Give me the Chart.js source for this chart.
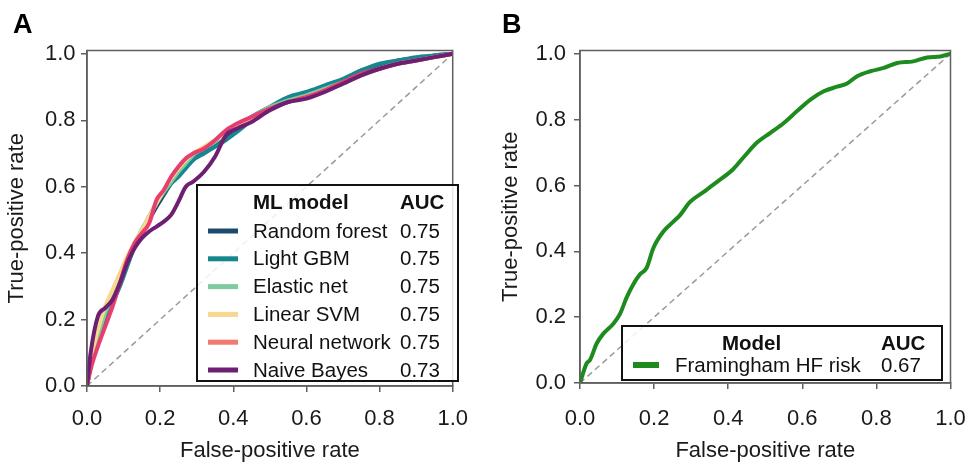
<!DOCTYPE html>
<html>
<head>
<meta charset="utf-8">
<script src="https://cdn.jsdelivr.net/npm/chart.js@4/dist/chart.umd.min.js"></script>
<style>
  body { margin: 0; width: 965px; height: 464px; overflow: hidden; background: #fff; }
  .panel { position: absolute; top: 0; height: 464px; }
  #wrapA { left: 0; width: 482px; }
  #wrapB { left: 483px; width: 500px; }
</style>
</head>
<body>
<div class="panel" id="wrapA"><canvas id="rocA"></canvas></div>
<div class="panel" id="wrapB"><canvas id="rocB"></canvas></div>
<script>
// ML models (panel A) - shared false-positive grid, one TPR list per model
const mlFpr = [0, 0.01, 0.03, 0.05, 0.07, 0.09, 0.11, 0.13, 0.15, 0.17, 0.19, 0.21, 0.23, 0.25, 0.27, 0.29, 0.32, 0.35, 0.38, 0.41, 0.45, 0.5, 0.55, 0.6, 0.65, 0.7, 0.75, 0.8, 0.85, 0.9, 0.95, 1.0];
const rfTpr  = [0, 0.06, 0.14, 0.21, 0.26, 0.31, 0.37, 0.42, 0.46, 0.50, 0.54, 0.575, 0.61, 0.635, 0.66, 0.685, 0.705, 0.725, 0.75, 0.775, 0.81, 0.84, 0.865, 0.88, 0.90, 0.92, 0.95, 0.965, 0.98, 0.985, 0.995, 1.0];
const gbmTpr = [0, 0.06, 0.13, 0.20, 0.25, 0.30, 0.36, 0.42, 0.47, 0.51, 0.55, 0.58, 0.61, 0.63, 0.655, 0.68, 0.70, 0.72, 0.74, 0.765, 0.80, 0.84, 0.87, 0.885, 0.905, 0.925, 0.95, 0.97, 0.98, 0.99, 0.995, 1.0];
const enTpr  = [0, 0.07, 0.15, 0.22, 0.27, 0.33, 0.38, 0.43, 0.47, 0.51, 0.55, 0.585, 0.615, 0.645, 0.67, 0.695, 0.715, 0.735, 0.76, 0.785, 0.81, 0.84, 0.86, 0.875, 0.895, 0.915, 0.935, 0.955, 0.97, 0.98, 0.99, 1.0];
const svmTpr = [0, 0.08, 0.17, 0.24, 0.29, 0.34, 0.39, 0.43, 0.47, 0.51, 0.55, 0.59, 0.625, 0.655, 0.68, 0.70, 0.72, 0.74, 0.76, 0.78, 0.805, 0.83, 0.855, 0.87, 0.89, 0.91, 0.935, 0.955, 0.97, 0.98, 0.99, 1.0];
const nnTpr  = [0, 0.05, 0.12, 0.18, 0.24, 0.31, 0.38, 0.43, 0.46, 0.49, 0.56, 0.59, 0.63, 0.66, 0.685, 0.70, 0.715, 0.74, 0.77, 0.79, 0.81, 0.835, 0.855, 0.87, 0.89, 0.915, 0.94, 0.955, 0.97, 0.98, 0.99, 1.0];
const nbTpr  = [0, 0.10, 0.21, 0.235, 0.26, 0.31, 0.37, 0.415, 0.445, 0.465, 0.48, 0.495, 0.515, 0.555, 0.60, 0.615, 0.645, 0.69, 0.755, 0.775, 0.795, 0.83, 0.855, 0.865, 0.885, 0.91, 0.935, 0.955, 0.97, 0.98, 0.99, 1.0];

const mlModels = ['Random forest', 'Light GBM', 'Elastic net', 'Linear SVM', 'Neural network', 'Naive Bayes'];
const mlAuc = ['0.75', '0.75', '0.75', '0.75', '0.75', '0.73'];

// Framingham HF risk score (panel B)
const framFpr = [0, 0.018, 0.027, 0.045, 0.063, 0.09, 0.108, 0.126, 0.144, 0.162, 0.18, 0.198, 0.225, 0.252, 0.27, 0.297, 0.333, 0.369, 0.414, 0.441, 0.477, 0.514, 0.55, 0.586, 0.622, 0.658, 0.694, 0.721, 0.748, 0.784, 0.82, 0.856, 0.9, 0.937, 0.973, 1.0];
const framTpr = [0, 0.06, 0.07, 0.12, 0.15, 0.18, 0.21, 0.26, 0.30, 0.33, 0.35, 0.41, 0.46, 0.49, 0.51, 0.55, 0.58, 0.61, 0.65, 0.685, 0.73, 0.76, 0.79, 0.826, 0.861, 0.886, 0.90, 0.91, 0.932, 0.947, 0.957, 0.972, 0.977, 0.989, 0.992, 1.0];
const framModels = ['Framingham HF risk'];
const framAuc = ['0.67'];

const chanceLine = [0, 1];
const tickLabels = ['0.0', '0.2', '0.4', '0.6', '0.8', '1.0'];

const lineColors = ['#1a4b6e', '#16878e', '#7fcba0', '#f8d78e', '#e63e6d', '#6e1f73'];
const swatchColors = ['#1a4b6e', '#16878e', '#7fcba0', '#f8d78e', '#f27a70', '#6e1f73'];
const framColor = '#1e8b1e';

Chart.defaults.font.family = "'Liberation Sans', Arial, sans-serif";
Chart.defaults.color = '#1a1a1a';

const toPoints = (xs, ys) => xs.map((x, i) => ({ x: x, y: ys[i] }));

// frame round the plot, legend table and panel letter
const rocDecor = {
  id: 'rocDecor',
  afterDatasetsDraw(chart) {
    const { ctx, chartArea: a } = chart;
    ctx.save();
    ctx.strokeStyle = '#5f5f5f';
    ctx.lineWidth = 1.5;
    ctx.strokeRect(a.left, a.top, a.right - a.left, a.bottom - a.top);
    ctx.restore();
  },
  afterDraw(chart, args, o) {
    const ctx = chart.ctx;
    ctx.save();
    // panel letter
    ctx.font = "bold 27px 'Liberation Sans', Arial, sans-serif";
    ctx.fillStyle = '#000';
    ctx.textBaseline = 'alphabetic';
    ctx.fillText(o.letter, o.letterX, 33);

    // legend box
    const b = o.box;
    ctx.fillStyle = 'rgba(255,255,255,0.85)';
    ctx.fillRect(b.x, b.y, b.w, b.h);
    ctx.strokeStyle = '#111';
    ctx.lineWidth = 2;
    ctx.strokeRect(b.x, b.y, b.w, b.h);

    ctx.textBaseline = 'middle';
    ctx.fillStyle = '#111';
    ctx.font = "bold 20.5px 'Liberation Sans', Arial, sans-serif";
    ctx.fillText(o.header, o.headerX, o.headerY);
    ctx.fillText('AUC', o.aucX, o.headerY);

    ctx.font = "20.5px 'Liberation Sans', Arial, sans-serif";
    o.labels.forEach((label, i) => {
      const y = o.rowY + i * o.rowStep;
      ctx.strokeStyle = o.swatches[i];
      ctx.lineWidth = o.swatchWidth;
      ctx.lineCap = 'butt';
      ctx.beginPath();
      ctx.moveTo(o.swatchX0, y);
      ctx.lineTo(o.swatchX1, y);
      ctx.stroke();
      ctx.fillStyle = '#111';
      ctx.fillText(label, o.labelX, y + 1);
      ctx.fillText(o.auc[i], o.aucX, y + 1);
    });
    ctx.restore();
  }
};

function axes(yWidth, xHeight, yTitlePad, yTickPad, xTickPad) {
  const grid = { display: true, drawOnChartArea: false, drawTicks: true, tickLength: 6, color: '#5f5f5f', lineWidth: 1.5 };
  return {
    x: {
      type: 'linear', min: 0, max: 1,
      grid: grid,
      border: { display: true, color: '#5f5f5f', width: 1.5 },
      ticks: { stepSize: 0.2, includeBounds: false, padding: xTickPad, font: { size: 22 }, maxRotation: 0,
               callback: v => tickLabels[Math.round(v / 0.2)] },
      title: { display: true, text: 'False-positive rate', font: { size: 22 }, padding: { top: 0, bottom: 0 } },
      afterFit: s => { s.height = xHeight; }
    },
    y: {
      type: 'linear', min: 0, max: 1.01,
      grid: grid,
      border: { display: true, color: '#5f5f5f', width: 1.5 },
      ticks: { stepSize: 0.2, includeBounds: false, padding: yTickPad, font: { size: 22 },
               callback: v => tickLabels[Math.round(v / 0.2)] },
      title: { display: true, text: 'True-positive rate', font: { size: 22 }, padding: { top: yTitlePad, bottom: 0 } },
      afterFit: s => { s.width = yWidth; }
    }
  };
}

const chanceDataset = {
  data: toPoints(chanceLine, chanceLine),
  borderColor: '#9a9a9a', borderWidth: 1.5, borderDash: [6, 4],
  pointRadius: 0, order: 20
};

// panel A
const mlTprs = [rfTpr, gbmTpr, enTpr, svmTpr, nnTpr, nbTpr];
new Chart(document.getElementById('rocA'), {
  type: 'line',
  data: {
    datasets: [chanceDataset].concat(mlModels.map((name, i) => ({
      label: name,
      data: toPoints(mlFpr, mlTprs[i]),
      borderColor: lineColors[i],
      borderWidth: 4,
      pointRadius: 0,
      cubicInterpolationMode: 'monotone',
      order: mlModels.length - i
    })))
  },
  options: {
    responsive: true, maintainAspectRatio: false, animation: false, events: [],
    layout: { padding: { top: 50.5, right: 21, bottom: 0, left: 0 } },
    scales: axes(87, 78, 3.5, 5.5, 14),
    plugins: {
      legend: { display: false }, tooltip: { enabled: false },
      rocDecor: {
        letter: 'A', letterX: 13,
        box: { x: 197, y: 185, w: 261, h: 196 },
        header: 'ML model', headerX: 253, headerY: 203, aucX: 400,
        labels: mlModels, auc: mlAuc, swatches: swatchColors,
        rowY: 231, rowStep: 27.8,
        swatchX0: 208, swatchX1: 238, swatchWidth: 5, labelX: 253
      }
    }
  },
  plugins: [rocDecor]
});

// panel B
new Chart(document.getElementById('rocB'), {
  type: 'line',
  data: {
    datasets: [chanceDataset, {
      label: framModels[0],
      data: toPoints(framFpr, framTpr),
      borderColor: framColor,
      borderWidth: 4,
      pointRadius: 0,
      cubicInterpolationMode: 'monotone',
      order: 1
    }]
  },
  options: {
    responsive: true, maintainAspectRatio: false, animation: false, events: [],
    layout: { padding: { top: 50.5, right: 32.5, bottom: 0, left: 0 } },
    scales: axes(97, 81, 14.5, 8, 16.5),
    plugins: {
      legend: { display: false }, tooltip: { enabled: false },
      rocDecor: {
        letter: 'B', letterX: 19,
        box: { x: 139, y: 326, w: 320, h: 54 },
        header: 'Model', headerX: 239, headerY: 344, aucX: 398,
        labels: framModels, auc: framAuc, swatches: [framColor],
        rowY: 365, rowStep: 0,
        swatchX0: 150, swatchX1: 176, swatchWidth: 6, labelX: 192
      }
    }
  },
  plugins: [rocDecor]
});
</script>
</body>
</html>
